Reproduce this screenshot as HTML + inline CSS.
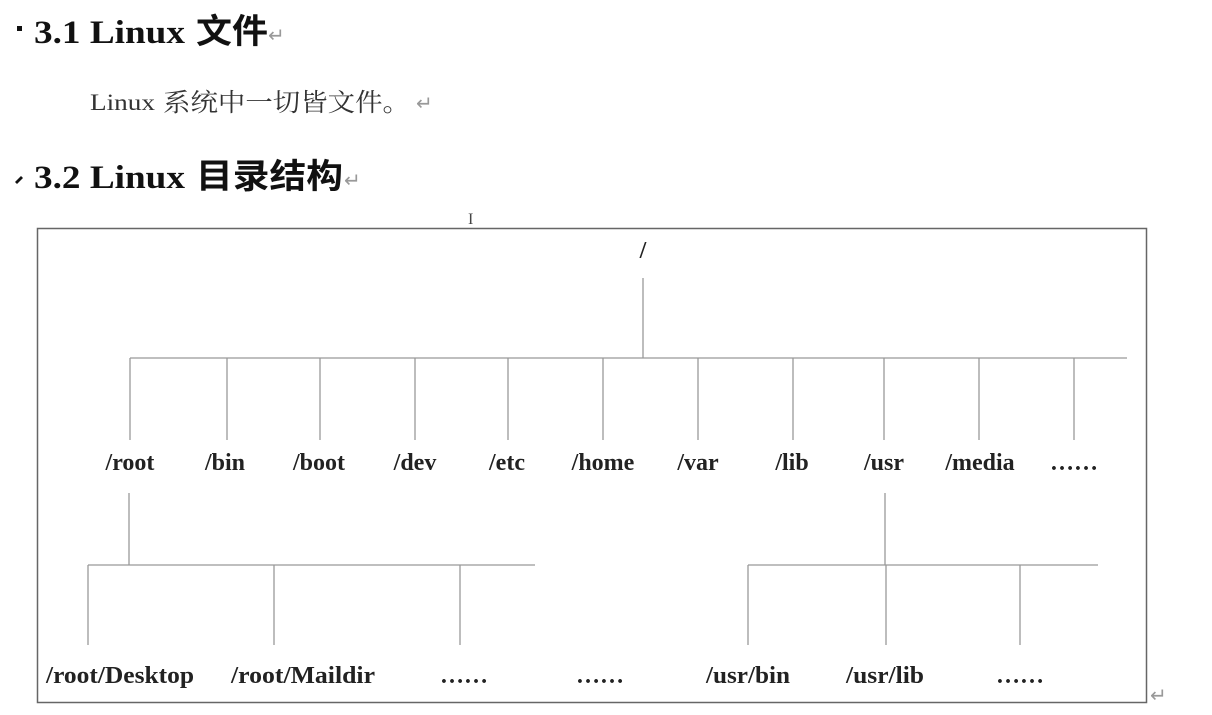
<!DOCTYPE html>
<html><head><meta charset="utf-8"><style>
html,body{margin:0;padding:0;background:#fff;width:1212px;height:715px;overflow:hidden}
svg{display:block}
.h{font-family:"Liberation Serif",serif;font-weight:bold;font-size:33px;fill:#111}
.hc{font-family:"Noto Sans CJK SC",sans-serif;font-weight:bold;font-size:34px;fill:#111}
.p{font-family:"Liberation Serif",serif;font-size:23px;fill:#333}
.pc{font-family:"Noto Serif CJK SC",serif;font-size:25px;fill:#333}
.l{font-family:"Liberation Serif",serif;font-weight:bold;font-size:24px;fill:#222}
.r{font-family:"DejaVu Sans",sans-serif;font-size:20px;fill:#999}
</style></head><body>
<svg width="1212" height="715" xmlns="http://www.w3.org/2000/svg">
<rect x="17" y="26" width="5" height="5" fill="#111"/>
<text class="h" x="34" y="43" textLength="151" lengthAdjust="spacingAndGlyphs">3.1 Linux</text>
<text class="hc" x="196" y="43" textLength="72" lengthAdjust="spacingAndGlyphs">文件</text>
<text class="r" x="268" y="42">↵</text>
<text class="p" x="90" y="110" textLength="65" lengthAdjust="spacingAndGlyphs">Linux</text>
<text class="pc" x="163" y="111" textLength="247" lengthAdjust="spacingAndGlyphs">系统中一切皆文件。</text>
<text class="r" x="416" y="110">↵</text>
<path d="M15 182 L21 176 L23 178 L17 184Z" fill="#111"/>
<text class="h" x="34" y="188" textLength="151" lengthAdjust="spacingAndGlyphs">3.2 Linux</text>
<text class="hc" x="196" y="188" textLength="147" lengthAdjust="spacingAndGlyphs">目录结构</text>
<text class="r" x="344" y="187">↵</text>
<text x="468" y="224" font-family="Liberation Serif" font-size="16" fill="#444">I</text>
<rect x="37.5" y="228.5" width="1109" height="474" fill="none" stroke="#666" stroke-width="1.5"/>
<g stroke="#999" stroke-width="1.3" fill="none">
<line x1="643" y1="278" x2="643" y2="358"/>
<line x1="130" y1="358" x2="1127" y2="358"/>
<line x1="130" y1="358" x2="130" y2="440"/>
<line x1="227" y1="358" x2="227" y2="440"/>
<line x1="320" y1="358" x2="320" y2="440"/>
<line x1="415" y1="358" x2="415" y2="440"/>
<line x1="508" y1="358" x2="508" y2="440"/>
<line x1="603" y1="358" x2="603" y2="440"/>
<line x1="698" y1="358" x2="698" y2="440"/>
<line x1="793" y1="358" x2="793" y2="440"/>
<line x1="884" y1="358" x2="884" y2="440"/>
<line x1="979" y1="358" x2="979" y2="440"/>
<line x1="1074" y1="358" x2="1074" y2="440"/>
<line x1="129" y1="493" x2="129" y2="565"/>
<line x1="88" y1="565" x2="535" y2="565"/>
<line x1="88" y1="565" x2="88" y2="645"/>
<line x1="274" y1="565" x2="274" y2="645"/>
<line x1="460" y1="565" x2="460" y2="645"/>
<line x1="885" y1="493" x2="885" y2="565"/>
<line x1="748" y1="565" x2="1098" y2="565"/>
<line x1="748" y1="565" x2="748" y2="645"/>
<line x1="886" y1="565" x2="886" y2="645"/>
<line x1="1020" y1="565" x2="1020" y2="645"/>
</g>
<g class="l" text-anchor="middle">
<text x="643" y="258">/</text>
<text x="130" y="470">/root</text>
<text x="225" y="470">/bin</text>
<text x="319" y="470">/boot</text>
<text x="415" y="470">/dev</text>
<text x="507" y="470">/etc</text>
<text x="603" y="470">/home</text>
<text x="698" y="470">/var</text>
<text x="792" y="470">/lib</text>
<text x="884" y="470">/usr</text>
<text x="980" y="470">/media</text>
<text x="1074" y="470">……</text>
<text x="120" y="683" textLength="148" lengthAdjust="spacingAndGlyphs">/root/Desktop</text>
<text x="303" y="683" textLength="144" lengthAdjust="spacingAndGlyphs">/root/Maildir</text>
<text x="464" y="683">……</text>
<text x="600" y="683">……</text>
<text x="748" y="683" textLength="84" lengthAdjust="spacingAndGlyphs">/usr/bin</text>
<text x="885" y="683" textLength="78" lengthAdjust="spacingAndGlyphs">/usr/lib</text>
<text x="1020" y="683">……</text>
</g>
<text class="r" x="1150" y="702">↵</text>
</svg>
</body></html>
